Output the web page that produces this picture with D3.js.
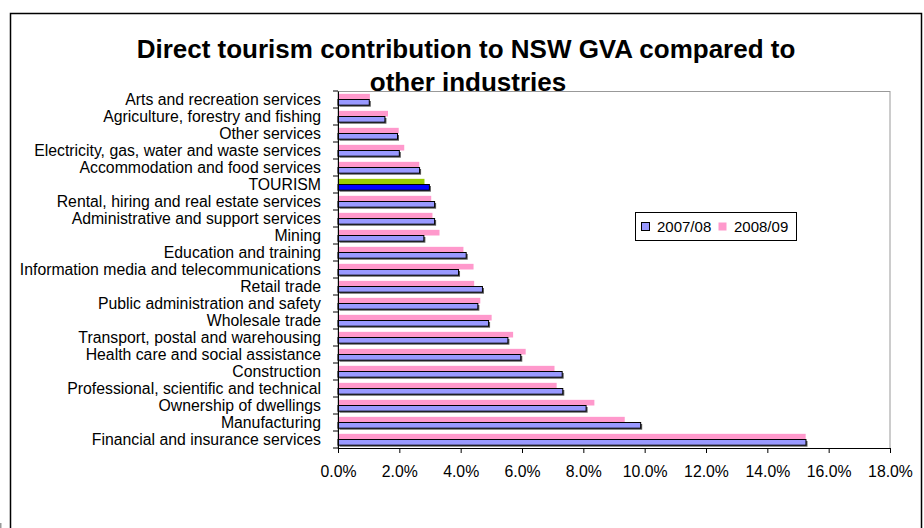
<!DOCTYPE html>
<html lang="en">
  <head>
    <meta charset="utf-8">
    <title>Direct tourism contribution to NSW GVA</title>
    <style type="text/css">
    body { margin: 0; background: #fff; }
    text { font-family: "Liberation Sans", Arial, sans-serif; fill: #000; }
    .axis path, .axis line { stroke: #000; }
    </style>
  </head>
  <body>
    <script src="https://d3js.org/d3.v7.min.js"></script>
    <div id="chart"></div>
    <script type="text/javascript">

    // industries, top to bottom as in the chart
    var categories = [
      "Arts and recreation services",
      "Agriculture, forestry and fishing",
      "Other services",
      "Electricity, gas, water and waste services",
      "Accommodation and food services",
      "TOURISM",
      "Rental, hiring and real estate services",
      "Administrative and support services",
      "Mining",
      "Education and training",
      "Information media and telecommunications",
      "Retail trade",
      "Public administration and safety",
      "Wholesale trade",
      "Transport, postal and warehousing",
      "Health care and social assistance",
      "Construction",
      "Professional, scientific and technical",
      "Ownership of dwellings",
      "Manufacturing",
      "Financial and insurance services"
    ];

    // share of GVA, %
    var v2007 = [1.02, 1.53, 1.94, 2.00, 2.66, 2.98, 3.15, 3.15, 2.80, 4.18, 3.93, 4.71, 4.56, 4.91, 5.54, 5.96, 7.31, 7.33, 8.09, 9.87, 15.26];
    var v2008 = [1.04, 1.63, 1.98, 2.16, 2.65, 2.82, 3.04, 3.08, 3.31, 4.09, 4.42, 4.44, 4.64, 5.01, 5.71, 6.12, 7.06, 7.13, 8.36, 9.35, 15.25];

    var seriesNames = ["2007/08", "2008/09"];
    var xTicks = [0, 2, 4, 6, 8, 10, 12, 14, 16, 18];

    var width = 924,
        height = 528;

    var plot = { left: 338, right: 890, top: 91, bottom: 448 };

    var svg = d3.select("#chart")
        .append("svg")
        .attr("width", width)
        .attr("height", height);

    // outer chart frame (runs off the bottom of the picture)
    svg.append("rect")
        .attr("x", 10.5).attr("y", 13.5)
        .attr("width", 911).attr("height", 600)
        .attr("fill", "#fff")
        .attr("stroke", "#000")
        .attr("stroke-width", 1.5);

    svg.append("rect")
        .attr("x", 0).attr("y", 523)
        .attr("width", 1.5).attr("height", 5)
        .attr("fill", "#999");

    // title
    var title = svg.append("text")
        .attr("text-anchor", "middle")
        .style("font-size", "26px")
        .style("font-weight", "bold");
    title.append("tspan").attr("x", 466).attr("y", 58)
        .text("Direct tourism contribution to NSW GVA compared to");
    title.append("tspan").attr("x", 468).attr("y", 91)
        .text("other industries");

    var x = d3.scaleLinear()
        .domain([0, 18])
        .range([plot.left, plot.right]);

    var y = d3.scaleBand()
        .domain(categories)
        .range([plot.top, plot.bottom]);

    // pink (2008/09) above blue (2007/08) inside each band
    var ySub = d3.scaleBand()
        .domain(["2008/09", "2007/08"])
        .range([0, y.bandwidth()])
        .paddingInner(0)
        .paddingOuter(0.5);

    // plot area border
    svg.append("rect")
        .attr("x", plot.left).attr("y", plot.top + 0.5)
        .attr("width", plot.right - plot.left)
        .attr("height", plot.bottom - plot.top)
        .attr("fill", "#fff")
        .attr("stroke", "#999")
        .attr("stroke-width", 1);

    var rows = categories.map(function(c, i) {
      return { name: c, a: v2007[i], b: v2008[i], tourism: c === "TOURISM" };
    });

    var g = svg.append("g");

    // 2008/09 bars
    g.selectAll(".bar08")
        .data(rows)
        .enter()
        .append("rect")
        .attr("class", "bar08")
        .attr("x", x(0))
        .attr("y", function(d) { return y(d.name) + ySub("2008/09"); })
        .attr("width", function(d) { return x(d.b) - x(0); })
        .attr("height", ySub.bandwidth())
        .attr("fill", function(d) { return d.tourism ? "#99cc00" : "#ff99cc"; });

    // shadow behind 2007/08 bars
    g.selectAll(".shadow07")
        .data(rows)
        .enter()
        .append("rect")
        .attr("class", "shadow07")
        .attr("x", x(0) + 1.5)
        .attr("y", function(d) { return y(d.name) + ySub("2007/08") + 1.5; })
        .attr("width", function(d) { return x(d.a) - x(0); })
        .attr("height", ySub.bandwidth())
        .attr("fill", "#555");

    g.selectAll(".bar07")
        .data(rows)
        .enter()
        .append("rect")
        .attr("class", "bar07")
        .attr("x", x(0))
        .attr("y", function(d) { return y(d.name) + ySub("2007/08"); })
        .attr("width", function(d) { return x(d.a) - x(0); })
        .attr("height", ySub.bandwidth())
        .attr("fill", function(d) { return d.tourism ? "#0000ff" : "#9999ff"; })
        .attr("stroke", "#000")
        .attr("stroke-width", 1);

    // category axis: labels at band centres, ticks on band edges
    var yAxis = svg.append("g")
        .attr("class", "axis")
        .attr("transform", "translate(" + plot.left + ",0)")
        .call(d3.axisLeft(y).tickSize(0).tickSizeOuter(0).tickPadding(17));
    yAxis.selectAll("text")
        .style("font-size", "15.8px")
        .style("font-family", "'Liberation Sans', Arial, sans-serif");

    var edges = categories.map(function(c) { return y(c); }).concat([plot.bottom]);
    yAxis.selectAll(".edge")
        .data(edges)
        .enter()
        .append("line")
        .attr("class", "edge")
        .attr("x1", -5).attr("x2", 0)
        .attr("y1", function(d) { return d; })
        .attr("y2", function(d) { return d; })
        .attr("stroke", "#000");

    // value axis
    var xAxis = svg.append("g")
        .attr("class", "axis")
        .attr("transform", "translate(0," + plot.bottom + ")")
        .call(d3.axisBottom(x)
          .tickValues(xTicks)
          .tickSize(5)
          .tickSizeOuter(0)
          .tickPadding(13)
          .tickFormat(function(d) { return d.toFixed(1) + "%"; }));
    xAxis.selectAll("text")
        .style("font-size", "15.8px")
        .style("font-family", "'Liberation Sans', Arial, sans-serif");

    // legend
    var legend = svg.append("g").attr("transform", "translate(635,212)");
    legend.append("rect")
        .attr("x", 0.5).attr("y", 0.5)
        .attr("width", 161).attr("height", 28)
        .attr("fill", "#fff")
        .attr("stroke", "#000");

    var legendColors = { "2007/08": "#9999ff", "2008/09": "#ff99cc" };
    var item = legend.selectAll(".item")
        .data(seriesNames)
        .enter()
        .append("g")
        .attr("class", "item")
        .attr("transform", function(d, i) { return "translate(" + (6 + i * 77) + ",0)"; });
    item.append("rect")
        .attr("x", 0.5).attr("y", 10.5)
        .attr("width", 8).attr("height", 8)
        .attr("fill", function(d) { return legendColors[d]; })
        .attr("stroke", function(d, i) { return i === 0 ? "#000" : "none"; });
    item.append("text")
        .attr("x", 16).attr("y", 20)
        .style("font-size", "15px")
        .text(function(d) { return d; });

    </script>
  </body>
</html>
